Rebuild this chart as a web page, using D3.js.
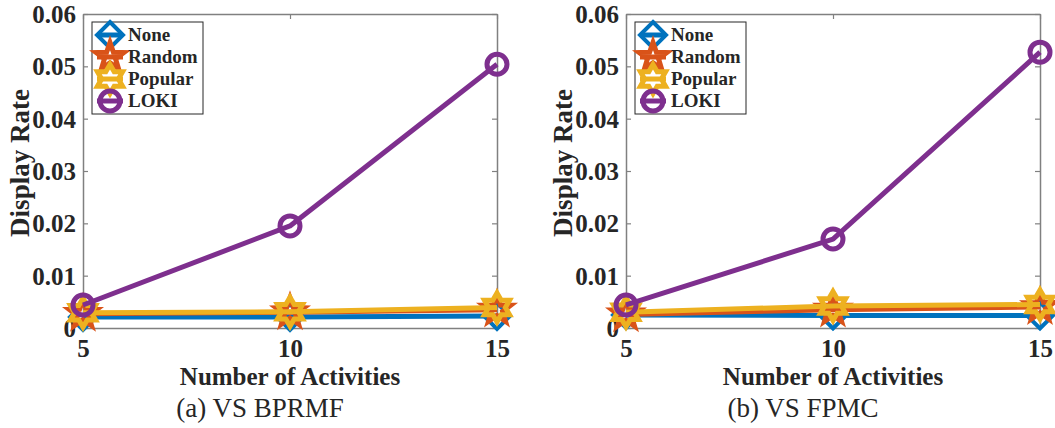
<!DOCTYPE html>
<html>
<head>
<meta charset="utf-8">
<script src="https://cdn.jsdelivr.net/npm/d3@7"></script>
<style>
  html, body { margin: 0; padding: 0; background: #fff; }
  svg { display: block; }
  text { font-family: "Liberation Serif", "Times New Roman", serif; fill: #262626; }
</style>
</head>
<body>
<svg id="chart" width="1055" height="428"></svg>
<script>
// ---- Data ----
const activities = [5, 10, 15];
const seriesNames = ["None", "Random", "Popular", "LOKI"];
const seriesColors = ["#0072BD", "#D95319", "#EDB120", "#7E2F8E"];
const seriesMarkers = ["diamond", "pentagram", "hexagram", "circle"];

const bprmfNone    = [0.0021, 0.0021, 0.0023];
const bprmfRandom  = [0.0027, 0.0030, 0.0035];
const bprmfPopular = [0.0029, 0.0031, 0.0039];
const bprmfLoki    = [0.0044, 0.0195, 0.0504];

const fpmcNone    = [0.0025, 0.0024, 0.0024];
const fpmcRandom  = [0.0026, 0.0035, 0.0040];
const fpmcPopular = [0.0030, 0.0042, 0.0045];
const fpmcLoki    = [0.0044, 0.0170, 0.0527];

const yTicks = [0, 0.01, 0.02, 0.03, 0.04, 0.05, 0.06];
const yTickLabels = ["0", "0.01", "0.02", "0.03", "0.04", "0.05", "0.06"];
const xTickLabels = ["5", "10", "15"];
const captions = ["(a) VS BPRMF", "(b) VS FPMC"];
const xAxisTitle = "Number of Activities";
const yAxisTitle = "Display Rate";

// ---- Layout ----
const svg = d3.select("#chart");
const panels = [
  { left: 83, series: [bprmfNone, bprmfRandom, bprmfPopular, bprmfLoki], caption: captions[0] },
  { left: 626, series: [fpmcNone, fpmcRandom, fpmcPopular, fpmcLoki], caption: captions[1] }
];
const plotW = 414, plotTop = 14, plotBottom = 328;

function markerPath(type) {
  if (type === "diamond") {
    const r = 13;
    return `M0,${-r}L${r},0L0,${r}L${-r},0Z`;
  }
  if (type === "pentagram" || type === "hexagram") {
    const n = type === "pentagram" ? 5 : 6;
    const R = 14.5, r = type === "pentagram" ? 5.8 : 8.4;
    const pts = [];
    for (let i = 0; i < 2 * n; i++) {
      const a = -Math.PI / 2 + i * Math.PI / n;
      const rr = i % 2 === 0 ? R : r;
      pts.push([rr * Math.cos(a), rr * Math.sin(a)]);
    }
    return "M" + pts.map(p => p[0].toFixed(2) + "," + p[1].toFixed(2)).join("L") + "Z";
  }
  const r = 10;
  return `M${-r},0A${r},${r} 0 1,0 ${r},0A${r},${r} 0 1,0 ${-r},0Z`;
}
const markerStroke = { diamond: 4, pentagram: 5, hexagram: 5, circle: 5 };

panels.forEach(p => {
  const g = svg.append("g");
  const x = d3.scaleLinear().domain([5, 15]).range([p.left, p.left + plotW]);
  const y = d3.scaleLinear().domain([0, 0.06]).range([plotBottom, plotTop]);

  const axisColor = "#808080";
  const yAxisL = d3.axisLeft(y).tickValues(yTicks).tickFormat((d, i) => yTickLabels[i]).tickSizeInner(-5).tickSizeOuter(0).tickPadding(7);
  const yAxisR = d3.axisRight(y).tickValues(yTicks).tickFormat("").tickSizeInner(-5).tickSizeOuter(0);
  const xAxisB = d3.axisBottom(x).tickValues(activities).tickFormat((d, i) => xTickLabels[i]).tickSizeInner(-5).tickSizeOuter(0).tickPadding(11);
  const xAxisT = d3.axisTop(x).tickValues(activities).tickFormat("").tickSizeInner(-5).tickSizeOuter(0);

  const gl = g.append("g").attr("transform", `translate(${p.left},0)`).call(yAxisL);
  const gr = g.append("g").attr("transform", `translate(${p.left + plotW},0)`).call(yAxisR);
  const gb = g.append("g").attr("transform", `translate(0,${plotBottom})`).call(xAxisB);
  const gt = g.append("g").attr("transform", `translate(0,${plotTop})`).call(xAxisT);
  [gl, gr, gb, gt].forEach(a => {
    a.select(".domain").attr("stroke", axisColor).attr("stroke-width", 1.5);
    a.selectAll(".tick line").attr("stroke", axisColor).attr("stroke-width", 1.2);
    a.selectAll("text").attr("font-family", '"Liberation Serif", "Times New Roman", serif')
      .attr("font-weight", "bold").attr("font-size", 25).attr("fill", "#262626");
  });
  gl.selectAll("text").attr("dy", "0.34em");
  gb.selectAll("text").attr("dy", "0.7em");

  p.series.forEach((vals, si) => {
    const pts = activities.map((a, i) => [x(a), y(vals[i])]);
    g.append("path")
      .attr("d", d3.line()(pts))
      .attr("fill", "none")
      .attr("stroke", seriesColors[si])
      .attr("stroke-width", 5)
      .attr("stroke-linejoin", "round");
    g.selectAll(null).data(pts).enter().append("path")
      .attr("d", markerPath(seriesMarkers[si]))
      .attr("transform", d => `translate(${d[0]},${d[1]})`)
      .attr("fill", "none")
      .attr("stroke", seriesColors[si])
      .attr("stroke-width", markerStroke[seriesMarkers[si]])
      .attr("stroke-linejoin", "miter");
  });

  const lg = g.append("g").attr("transform", `translate(${p.left + 9},22)`);
  lg.append("rect").attr("x", 0).attr("y", 0).attr("width", 111).attr("height", 92)
    .attr("fill", "#fff").attr("stroke", "#262626").attr("stroke-width", 1);
  seriesNames.forEach((name, si) => {
    const cy = 13 + si * 22;
    lg.append("line").attr("x1", 5).attr("x2", 31).attr("y1", cy).attr("y2", cy)
      .attr("stroke", seriesColors[si]).attr("stroke-width", 5);
    lg.append("path").attr("d", markerPath(seriesMarkers[si]))
      .attr("transform", `translate(18,${cy})`)
      .attr("fill", "none").attr("stroke", seriesColors[si])
      .attr("stroke-width", markerStroke[seriesMarkers[si]]);
    lg.append("text").attr("x", 36).attr("y", cy).attr("dy", "0.34em")
      .attr("font-weight", "bold").attr("font-size", 19).text(name);
  });

  g.append("text").attr("x", p.left + plotW / 2).attr("y", 385)
    .attr("text-anchor", "middle").attr("font-weight", "bold").attr("font-size", 25).text(xAxisTitle);
  g.append("text").attr("transform", `translate(${p.left - 54},163) rotate(-90)`)
    .attr("text-anchor", "middle").attr("font-weight", "bold").attr("font-size", 27).text(yAxisTitle);

  g.append("text").attr("x", p.left + plotW / 2 - 30).attr("y", 417)
    .attr("text-anchor", "middle").attr("font-size", 27).text(p.caption);
});
</script>
</body>
</html>
